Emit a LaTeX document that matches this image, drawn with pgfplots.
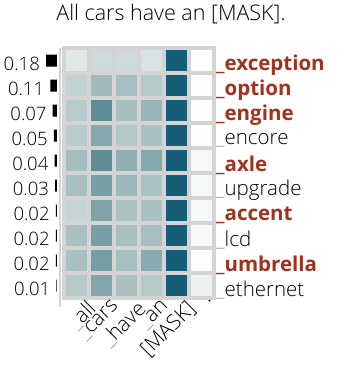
\documentclass[border=0pt]{standalone}
\usepackage{pgfplots}
\pgfplotsset{compat=1.18}
\usepackage{fontspec}
\setmainfont{Open Sans Light}[BoldFont={Open Sans Bold}]
\definecolor{wordred}{RGB}{160,50,30}
\definecolor{gridgray}{RGB}{212,212,212}
\definecolor{uscore}{RGB}{150,150,150}
\pgfplotsset{colormap={tealmap}{rgb255(0cm)=(255,255,255) rgb255(3cm)=(181,201,200) rgb255(7cm)=(94,141,150) rgb255(10cm)=(22,94,120)}}

\newcommand{\lab}{\fontsize{20.5}{23}\selectfont}
\newcommand{\hit}[1]{{\color{wordred}\bfseries\_#1}}
\newcommand{\miss}[1]{{\color{uscore}\_}#1}

\begin{document}
\begin{tikzpicture}
% heatmap: rows = predicted words, columns = input tokens
\begin{axis}[
  at={(0,0)}, anchor=south west,
  scale only axis, width=150pt, height=250pt,
  xmin=-0.5, xmax=5.5, ymin=-0.5, ymax=9.5, y dir=reverse,
  enlargelimits=false, axis line style={draw=none},
  major tick length=0pt,
  colormap name=tealmap, point meta min=0, point meta max=1,
  xtick={0,...,5},
  xticklabels={\miss{all},\miss{cars},\miss{have},\miss{an},{[MASK]},.},
  xticklabel style={font=\fontsize{21}{24}\selectfont, rotate=45, anchor=north east, inner sep=1pt, xshift=7pt, yshift=-6pt},
  ytick={0,...,9}, yticklabel pos=right,
  yticklabels={\hit{exception},\hit{option},\hit{engine},\miss{encore},\hit{axle},\miss{upgrade},\hit{accent},\miss{lcd},\hit{umbrella},\miss{ethernet}},
  yticklabel style={font=\lab, anchor=west, yshift=-5pt, inner sep=2pt},
  clip=false,
]
\addplot[matrix plot, mesh/cols=6, point meta=explicit, draw=gridgray, line width=4pt] table[meta=c] {
x y c
0 0 0.13
1 0 0.20
2 0 0.20
3 0 0.16
4 0 1.00
5 0 0.00
0 1 0.25
1 1 0.40
2 1 0.37
3 1 0.30
4 1 1.00
5 1 0.01
0 2 0.29
1 2 0.70
2 2 0.38
3 2 0.43
4 2 1.00
5 2 0.00
0 3 0.28
1 3 0.52
2 3 0.31
3 3 0.35
4 3 1.00
5 3 0.01
0 4 0.38
1 4 0.70
2 4 0.47
3 4 0.52
4 4 1.00
5 4 0.04
0 5 0.36
1 5 0.58
2 5 0.42
3 5 0.34
4 5 1.00
5 5 0.04
0 6 0.24
1 6 0.55
2 6 0.34
3 6 0.35
4 6 1.00
5 6 0.04
0 7 0.35
1 7 0.58
2 7 0.35
3 7 0.37
4 7 1.00
5 7 0.03
0 8 0.36
1 8 0.59
2 8 0.36
3 8 0.50
4 8 1.00
5 8 0.01
0 9 0.30
1 9 0.53
2 9 0.35
3 9 0.30
4 9 1.00
5 9 0.08
};
\end{axis}

% probability bars on the left
\begin{axis}[
  at={(-7pt,0)}, anchor=south east,
  scale only axis, width=40pt, height=250pt,
  xmin=0, xmax=0.656, x dir=reverse,
  ymin=-0.5, ymax=9.5, y dir=reverse,
  hide axis, clip=false,
]
\addplot[xbar, fill=black, draw=none, bar width=12pt, point meta=x,
  nodes near coords={\fontsize{18.5}{21}\selectfont\pgfmathprintnumber[assume math mode=true,fixed,fixed zerofill,precision=2]{\pgfplotspointmeta}},
  every node near coord/.append style={anchor=east, inner sep=0pt, xshift=-6pt, yshift=-3pt}]
  coordinates {(0.18,0) (0.11,1) (0.07,2) (0.05,3) (0.04,4) (0.03,5) (0.02,6) (0.02,7) (0.02,8) (0.01,9)};
\end{axis}

\draw[gridgray, line width=2pt] (-4pt,250pt) -- (-4pt,-9pt);
\node[font=\fontsize{21.5}{25}\selectfont, anchor=base] at (107pt,277pt) {All cars have an [MASK].};
\path (-64pt,-74pt) rectangle (282pt,298pt);
\end{tikzpicture}
\end{document}
